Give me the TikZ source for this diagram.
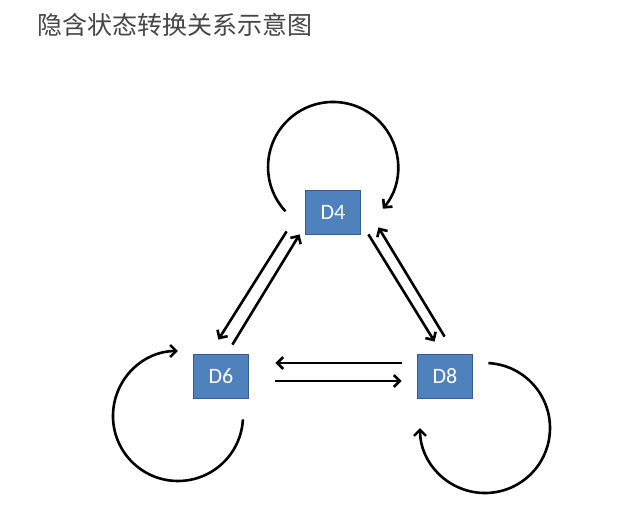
\documentclass[tikz,border=0pt]{standalone}
\usepackage{fontspec}
\usepackage[rgb]{xcolor}
\usepackage{tikz}
\usetikzlibrary{calc,arrows,arrows.meta,shapes,positioning}

\setsansfont{Carlito}
\newfontfamily\cjkfont{Noto Sans CJK SC}

\definecolor{boxfill}{RGB}{79,129,189}
\definecolor{boxline}{RGB}{56,93,138}
\definecolor{titlegray}{RGB}{70,70,70}

\begin{document}
\begin{tikzpicture}[>={Straight Barb[length=6bp,width=12bp]},
	statebox/.style={draw=boxline, line width=0.8bp, fill=boxfill, minimum width=55bp, minimum height=44bp,
		inner sep=0bp, text=white, font=\sffamily\fontsize{22bp}{26bp}\selectfont},
	trans/.style={->, line width=2.6bp, black}]
	\useasboundingbox (0bp,0bp) rectangle (618bp,509bp);

	\node (title) at (37bp,484bp) [anchor=west, inner sep=0bp, text=titlegray,
		font=\cjkfont\fontsize{25bp}{30bp}\selectfont] {隐含状态转换关系示意图};

	\node (d4) at (333bp,297bp) [statebox] {D4};
	\node (d6) at (221bp,133bp) [statebox] {D6};
	\node (d8) at (445bp,133bp) [statebox] {D8};

	% self loops
	\draw [trans] ([shift={(-47.5bp,0.7bp)}]d4.center) arc[start angle=223, end angle=-40, radius=65bp];
	\draw [trans] ([shift={(21.9bp,-43.4bp)}]d6.center) arc[start angle=-3, end angle=-270, radius=65bp];
	\draw [trans] ([shift={(43.4bp,12.9bp)}]d8.center) arc[start angle=87, end angle=-180, radius=65bp];

	% D4 <-> D6
	\draw [trans] ([shift={(-18.5bp,3bp)}]d4.south west) -- ([shift={(-30.5bp,14bp)}]d6.north east);
	\draw [trans] ([shift={(-16.5bp,9bp)}]d6.north east) -- ([shift={(-5.5bp,0bp)}]d4.south west);

	% D4 <-> D8
	\draw [trans] ([shift={(7.5bp,0bp)}]d4.south east) -- ([shift={(17.5bp,12bp)}]d8.north west);
	\draw [trans] ([shift={(27.5bp,17bp)}]d8.north west) -- ([shift={(17.5bp,7bp)}]d4.south east);

	% D6 <-> D8
	\draw [trans] ([shift={(-15.5bp,13bp)}]d8.west) -- ([shift={(26.5bp,13bp)}]d6.east);
	\draw [trans] ([shift={(26.5bp,-5bp)}]d6.east) -- ([shift={(-15.5bp,-5bp)}]d8.west);

\end{tikzpicture}
\end{document}
